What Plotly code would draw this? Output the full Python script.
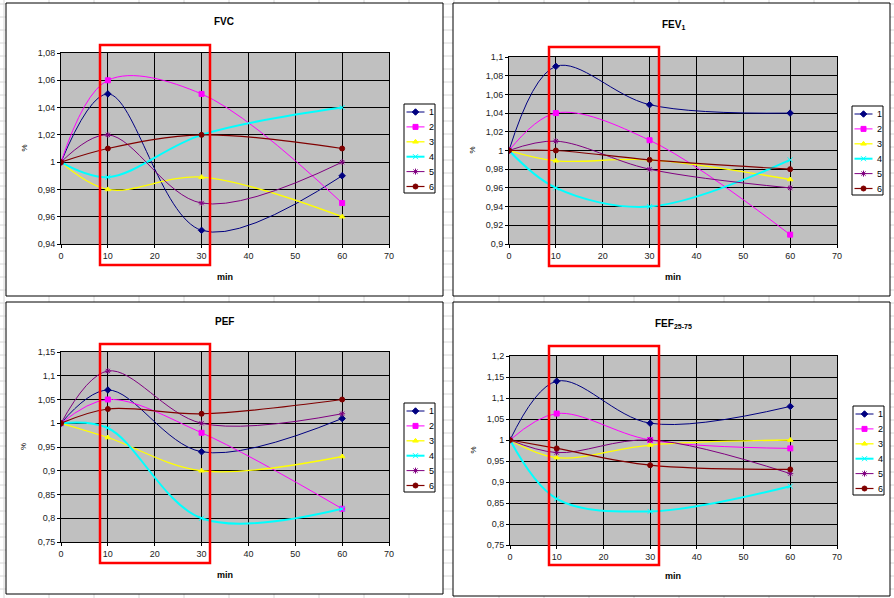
import plotly.graph_objects as go

W, H = 894, 598

minutes = [0, 10, 30, 60]
series_names = ["1", "2", "3", "4", "5", "6"]

fvc = {
    "1": [1.0, 1.05, 0.95, 0.99],
    "2": [1.0, 1.06, 1.05, 0.97],
    "3": [1.0, 0.98, 0.989, 0.96],
    "4": [1.0, 0.989, 1.02, 1.04],
    "5": [1.0, 1.02, 0.97, 1.0],
    "6": [1.0, 1.01, 1.02, 1.01],
}
fev1 = {
    "1": [1.0, 1.09, 1.049, 1.04],
    "2": [1.0, 1.04, 1.011, 0.91],
    "3": [1.0, 0.989, 0.99, 0.969],
    "4": [1.0, 0.96, 0.94, 0.99],
    "5": [1.0, 1.01, 0.98, 0.96],
    "6": [1.0, 1.0, 0.99, 0.98],
}
pef = {
    "1": [1.0, 1.07, 0.94, 1.01],
    "2": [1.0, 1.05, 0.98, 0.82],
    "3": [1.0, 0.97, 0.90, 0.93],
    "4": [1.0, 0.99, 0.80, 0.82],
    "5": [1.0, 1.11, 1.0, 1.02],
    "6": [1.0, 1.03, 1.02, 1.05],
}
fef = {
    "1": [1.0, 1.14, 1.04, 1.08],
    "2": [1.0, 1.063, 1.0, 0.98],
    "3": [1.0, 0.958, 0.988, 1.0],
    "4": [1.0, 0.86, 0.83, 0.89],
    "5": [1.0, 0.97, 1.0, 0.92],
    "6": [1.0, 0.98, 0.94, 0.93],
}

x_ticks = [0, 10, 20, 30, 40, 50, 60, 70]
fvc_ticks = [0.94, 0.96, 0.98, 1.0, 1.02, 1.04, 1.06, 1.08]
fvc_labels = ["0,94", "0,96", "0,98", "1", "1,02", "1,04", "1,06", "1,08"]
fev1_ticks = [0.9, 0.92, 0.94, 0.96, 0.98, 1.0, 1.02, 1.04, 1.06, 1.08, 1.1]
fev1_labels = ["0,9", "0,92", "0,94", "0,96", "0,98", "1", "1,02", "1,04", "1,06", "1,08", "1,1"]
pef_ticks = [0.75, 0.8, 0.85, 0.9, 0.95, 1.0, 1.05, 1.1, 1.15]
pef_labels = ["0,75", "0,8", "0,85", "0,9", "0,95", "1", "1,05", "1,1", "1,15"]
fef_ticks = [0.75, 0.8, 0.85, 0.9, 0.95, 1.0, 1.05, 1.1, 1.15, 1.2]
fef_labels = ["0,75", "0,8", "0,85", "0,9", "0,95", "1", "1,05", "1,1", "1,15", "1,2"]

colors = {"1": "#000080", "2": "#FF00FF", "3": "#FFFF00",
          "4": "#00FFFF", "5": "#800080", "6": "#800000"}
symbols = {"1": "diamond", "2": "square", "3": "triangle-up",
           "4": "x-thin-open", "5": "asterisk-open", "6": "circle"}
widths = {"1": 1, "2": 1, "3": 1.3, "4": 2, "5": 1, "6": 1.2}

FONT = "Arial, Liberation Sans, sans-serif"


def px(x):
    return x / W


def py(y):
    return 1 - y / H


panels = [
    dict(data=fvc, ticks=fvc_ticks, labels=fvc_labels, title="<b>FVC</b>",
         area=(61, 389, 53, 244), frame=(6, 443, 3, 296), leg=(404, 104),
         red=(100, 210, 45, 265), tpos=(224, 22), mpos=(225, 277)),
    dict(data=fev1, ticks=fev1_ticks, labels=fev1_labels, title="<b>FEV<sub>1</sub></b>",
         area=(509, 837, 57, 244), frame=(453, 890, 3, 296), leg=(852, 106),
         red=(549, 659, 47, 266), tpos=(673, 25), mpos=(673, 277)),
    dict(data=pef, ticks=pef_ticks, labels=pef_labels, title="<b>PEF</b>",
         area=(61, 389, 352, 542), frame=(6, 443, 302, 594), leg=(404, 403),
         red=(100, 210, 344, 563), tpos=(224, 321), mpos=(225, 575)),
    dict(data=fef, ticks=fef_ticks, labels=fef_labels, title="<b>FEF<sub>25-75</sub></b>",
         area=(510, 837, 356, 545), frame=(453, 890, 302, 596), leg=(853, 406),
         red=(549, 659, 346, 565), tpos=(673, 324), mpos=(673, 576)),
]

fig = go.Figure()
layout = dict(
    width=W, height=H, margin=dict(l=0, r=0, t=0, b=0),
    paper_bgcolor="white", plot_bgcolor="rgba(0,0,0,0)",
    font=dict(family=FONT, size=9, color="black"),
    showlegend=False,
)
shapes = []
annotations = []

# spreadsheet background grid
for yy in range(4, H, 13):
    shapes.append(dict(type="line", xref="paper", yref="paper", x0=0, x1=1,
                       y0=py(yy), y1=py(yy), line=dict(color="#D6D6D6", width=1), layer="below"))
for xx in range(4, W, 45):
    shapes.append(dict(type="line", xref="paper", yref="paper", x0=px(xx), x1=px(xx),
                       y0=0, y1=1, line=dict(color="#D6D6D6", width=1), layer="below"))

# legend key geometry (relative to box top-left), px
LEG_W, LEG_H, ITEM0, ITEM_STEP = 31, 89, 8, 14.9
leg_mx, leg_my, leg_sym, leg_col = [], [], [], []
legend_shapes = []

for i, p in enumerate(panels):
    k = "" if i == 0 else str(i + 1)
    xa, ya = "x" + k, "y" + k
    x0, x1, y0, y1 = p["area"]
    for s in series_names:
        fig.add_trace(go.Scatter(
            x=minutes, y=p["data"][s], name=s, xaxis=xa, yaxis=ya,
            mode="lines+markers",
            line=dict(color=colors[s], width=widths[s], shape="spline", smoothing=1),
            marker=dict(symbol=symbols[s], size=5, color=colors[s],
                        line=dict(color=colors[s], width=1)),
            hoverinfo="x+y+name",
        ))
    layout["xaxis" + k] = dict(
        domain=[px(x0), px(x1)], anchor=ya, range=[0, 70], tickvals=x_ticks,
        ticktext=[str(t) for t in x_ticks], showgrid=True, gridcolor="black", gridwidth=1,
        showline=True, linecolor="black", linewidth=1, mirror=True, ticks="outside",
        ticklen=3, tickcolor="black", zeroline=False, tickfont=dict(size=9, color="#222"),
        fixedrange=True, automargin=False,
    )
    layout["yaxis" + k] = dict(
        domain=[py(y1), py(y0)], anchor=xa, range=[p["ticks"][0], p["ticks"][-1]],
        tickvals=p["ticks"], ticktext=p["labels"], showgrid=True, gridcolor="black",
        gridwidth=1, showline=True, linecolor="black", linewidth=1, mirror=True,
        ticks="outside", ticklen=3, tickcolor="black", zeroline=False,
        tickfont=dict(size=9, color="#222"), fixedrange=True, automargin=False,
    )
    fx0, fx1, fy0, fy1 = p["frame"]
    shapes.append(dict(type="rect", xref="paper", yref="paper", x0=px(fx0), x1=px(fx1),
                       y0=py(fy1), y1=py(fy0), fillcolor="white",
                       line=dict(color="black", width=1), layer="below"))
    # gray plot area
    shapes.append(dict(type="rect", xref=xa + " domain", yref=ya + " domain",
                       x0=0, x1=1, y0=0, y1=1, fillcolor="#C0C0C0",
                       line=dict(width=0), layer="below"))
    rx0, rx1, ry0, ry1 = p["red"]
    shapes.append(dict(type="rect", xref="paper", yref="paper", x0=px(rx0), x1=px(rx1),
                       y0=py(ry1), y1=py(ry0), line=dict(color="#FF0000", width=2.5),
                       layer="above"))
    annotations.append(dict(text=p["title"], x=px(p["tpos"][0]), y=py(p["tpos"][1]),
                            xref="paper", yref="paper", showarrow=False,
                            xanchor="center", yanchor="middle",
                            font=dict(size=10, family=FONT, color="black")))
    annotations.append(dict(text="<b>min</b>", x=px(p["mpos"][0]), y=py(p["mpos"][1]),
                            xref="paper", yref="paper", showarrow=False,
                            xanchor="center", yanchor="middle",
                            font=dict(size=9, family=FONT, color="black")))
    annotations.append(dict(text="%", x=px(x0 - 37), y=py((y0 + y1) / 2), textangle=-90,
                            xref="paper", yref="paper", showarrow=False,
                            xanchor="center", yanchor="middle",
                            font=dict(size=8, family=FONT, color="black")))

    # compact Excel-style legend
    L, T = p["leg"]
    legend_shapes.append(dict(type="rect", xref="paper", yref="paper", x0=px(L),
                              x1=px(L + LEG_W), y0=py(T + LEG_H), y1=py(T),
                              fillcolor="white", line=dict(color="black", width=1),
                              layer="below"))
    for j, s in enumerate(series_names):
        yy = T + ITEM0 + j * ITEM_STEP
        legend_shapes.append(dict(type="line", xref="paper", yref="paper",
                                  x0=px(L + 2.5), x1=px(L + 20.5), y0=py(yy), y1=py(yy),
                                  line=dict(color=colors[s], width=widths[s]),
                                  layer="below"))
        leg_mx.append(L + 11.5)
        leg_my.append(yy)
        leg_sym.append(symbols[s])
        leg_col.append(colors[s])
        annotations.append(dict(text=s, x=px(L + 23), y=py(yy), xref="paper", yref="paper",
                                xanchor="left", yanchor="middle", showarrow=False,
                                font=dict(size=9, family=FONT, color="black")))

# legend key markers on a hidden pixel-space overlay axis
fig.add_trace(go.Scatter(
    x=leg_mx, y=leg_my, xaxis="x5", yaxis="y5", mode="markers", hoverinfo="skip",
    marker=dict(symbol=leg_sym, size=5, color=leg_col, line=dict(color=leg_col, width=1)),
))
layout["xaxis5"] = dict(domain=[0, 1], anchor="y5", range=[0, W], visible=False,
                        fixedrange=True, showgrid=False)
layout["yaxis5"] = dict(domain=[0, 1], anchor="x5", range=[H, 0], visible=False,
                        fixedrange=True, showgrid=False)

layout["shapes"] = shapes + legend_shapes
layout["annotations"] = annotations
fig.update_layout(**layout)
fig.write_html(
    "out.html",
    config={"displayModeBar": False},
    post_script="document.body.style.margin='0';document.body.style.overflow='hidden';",
)
